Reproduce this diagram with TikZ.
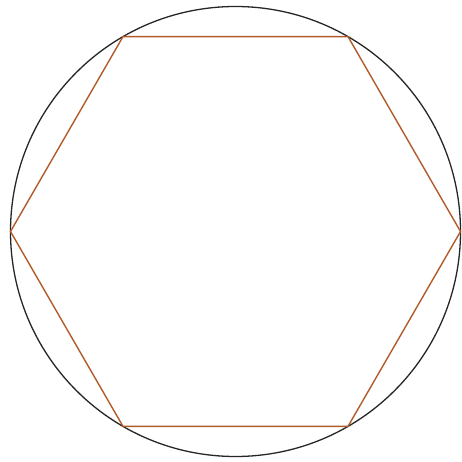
\documentclass[tikz,border=0pt]{standalone}
\definecolor{hexbrown}{RGB}{178,90,40}
\begin{document}
\begin{tikzpicture}[x=1pt,y=-1pt,
  circ/.style={draw=black!85,line width=1.3pt},
  hex/.style={draw=hexbrown,line width=1.4pt,line join=miter}]
\useasboundingbox (0,0) rectangle (461,462);
\coordinate (c) at (235.5,231.5);
\draw[circ] (c) circle (225);
\foreach \i/\a in {1/0,2/60,3/120,4/180,5/240,6/300}
  \coordinate (p\i) at ([shift={(\a:225)}]c);
\draw[hex] (p1) -- (p2) -- (p3) -- (p4) -- (p5) -- (p6) -- cycle;
\end{tikzpicture}
\end{document}
